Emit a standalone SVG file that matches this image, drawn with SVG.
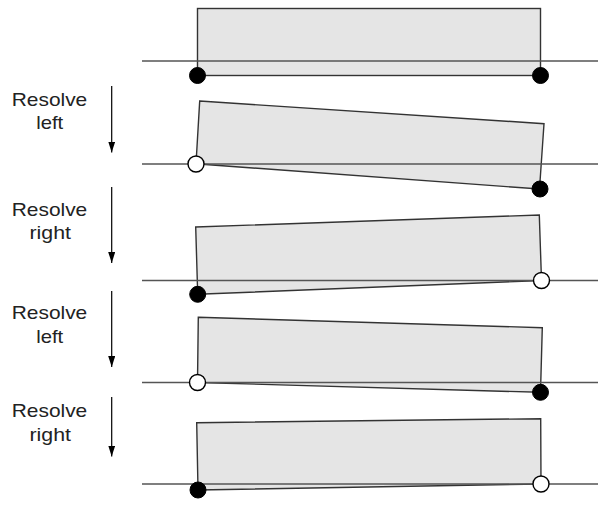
<svg xmlns="http://www.w3.org/2000/svg" width="599" height="530" viewBox="0 0 599 530">
<style>
.box{fill:#e5e5e5;stroke:#333;stroke-width:1.4;stroke-linejoin:miter}
.ground{stroke:#555;stroke-width:1.4;fill:none}
.fixed{fill:#000;stroke:#000;stroke-width:1}
.free{fill:#fff;stroke:#000;stroke-width:1.4}
.lbl{font-family:"Liberation Sans",Arial,sans-serif;font-size:18.5px;fill:#222;text-anchor:middle}
.arrow{stroke:#000;stroke-width:1.2;fill:none}
</style>
<defs>
<marker id="ah" markerWidth="11" markerHeight="7" refX="11" refY="3.5" orient="auto" markerUnits="userSpaceOnUse" viewBox="0 0 11 7">
<path d="M0,0 L11,3.5 L0,7 Z" fill="#000"/>
</marker>
</defs>
<g id="state1">
<rect class="box" x="197.5" y="8.5" width="343" height="67"/>
<line class="ground" x1="142" y1="61" x2="598" y2="61"/>
<circle class="fixed" cx="197.5" cy="75.5" r="8"/>
<circle class="fixed" cx="540.5" cy="75.5" r="8"/>
</g>
<g id="state2">
<polygon class="box" points="199.7,101 544,123.7 539.5,189 196,163.8"/>
<line class="ground" x1="142" y1="164" x2="598" y2="164"/>
<circle class="free" cx="196" cy="164" r="8"/>
<circle class="fixed" cx="540" cy="189" r="8"/>
</g>
<g id="state3">
<polygon class="box" points="195.7,227 539.3,215 541.5,280.5 197.7,294.3"/>
<line class="ground" x1="142" y1="280.5" x2="598" y2="280.5"/>
<circle class="free" cx="541.5" cy="280.5" r="8"/>
<circle class="fixed" cx="197.7" cy="294.3" r="8"/>
</g>
<g id="state4">
<polygon class="box" points="198.3,317.3 542.3,327.7 540.5,392.3 197.5,382.5"/>
<line class="ground" x1="142" y1="382.5" x2="598" y2="382.5"/>
<circle class="free" cx="197.5" cy="382.5" r="8"/>
<circle class="fixed" cx="540.5" cy="392.3" r="8"/>
</g>
<g id="state5">
<polygon class="box" points="196.7,422.7 540.7,418.7 541,484 198,490"/>
<line class="ground" x1="142" y1="484" x2="598" y2="484"/>
<circle class="free" cx="541" cy="484" r="8"/>
<circle class="fixed" cx="198" cy="490" r="8"/>
</g>
<g id="connectors">
<line class="arrow" x1="111.7" y1="86" x2="111.7" y2="152.5" marker-end="url(#ah)"/>
<line class="arrow" x1="111.7" y1="187" x2="111.7" y2="263" marker-end="url(#ah)"/>
<line class="arrow" x1="111.7" y1="291" x2="111.7" y2="367" marker-end="url(#ah)"/>
<line class="arrow" x1="111.7" y1="397" x2="111.7" y2="456.5" marker-end="url(#ah)"/>
</g>
<g id="label1">
<text class="lbl" x="49.5" y="106" textLength="75.5" lengthAdjust="spacingAndGlyphs">Resolve</text>
<text class="lbl" x="49.7" y="129.3" textLength="27" lengthAdjust="spacingAndGlyphs">left</text>
</g>
<g id="label2">
<text class="lbl" x="49.5" y="216" textLength="75.5" lengthAdjust="spacingAndGlyphs">Resolve</text>
<text class="lbl" x="50.2" y="239.3" textLength="41.5" lengthAdjust="spacingAndGlyphs">right</text>
</g>
<g id="label3">
<text class="lbl" x="49.5" y="319" textLength="75.5" lengthAdjust="spacingAndGlyphs">Resolve</text>
<text class="lbl" x="49.7" y="342.5" textLength="27" lengthAdjust="spacingAndGlyphs">left</text>
</g>
<g id="label4">
<text class="lbl" x="49.5" y="417" textLength="75.5" lengthAdjust="spacingAndGlyphs">Resolve</text>
<text class="lbl" x="50.2" y="440.5" textLength="41.5" lengthAdjust="spacingAndGlyphs">right</text>
</g>
</svg>
